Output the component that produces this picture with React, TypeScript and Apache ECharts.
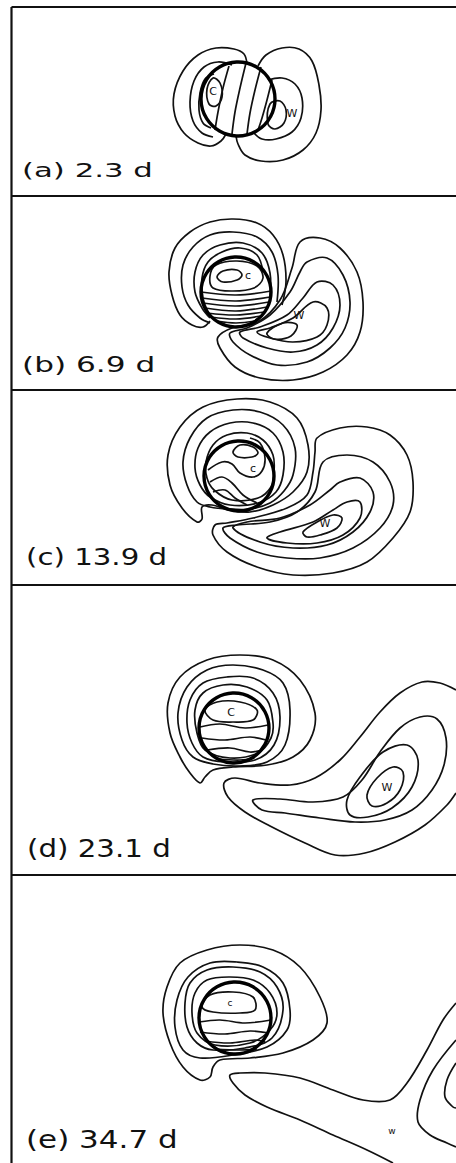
import React, { useEffect, useRef } from "react";
import * as echarts from "echarts";

type Pt = [number, number];
type Contour = { closed: boolean; pts: Pt[] };

// ---------- data (page-pixel data units, y downward) ----------
const panelLabels = ["(a) 2.3 d", "(b) 6.9 d", "(c) 13.9 d", "(d) 23.1 d", "(e) 34.7 d"];

// vortex core circles: [cx, cy, r]
const vortexCircles: [number, number, number][] = [
  [238, 99, 37],
  [236, 292, 35],
  [239, 476, 35],
  [234, 728, 35],
  [235, 1018, 36],
];

// C / W centre marks: [x, y, text, small?]
const centreMarks: [number, number, string, number][] = [
  [213, 91, "C", 0], [292, 113, "W", 0],
  [248, 275, "c", 0], [299, 315, "W", 0],
  [253, 468, "c", 0], [325, 523, "W", 0],
  [231, 712, "C", 0], [387, 787, "W", 0],
  [230, 1003, "c", 1], [392, 1131, "w", 1],
];

const panelA: Contour[] = [
  { closed: false, pts: [[247,64],[244,54],[234,49],[216,48],[198,55],[183,71],[174,94],[175,116],[184,133],[198,143],[211,146],[221,141],[226,134]] },
  { closed: false, pts: [[232,65],[218,62],[204,67],[194,81],[190,102],[193,121],[202,133],[213,137]] },
  { closed: false, pts: [[214,74],[205,79],[200,93],[199,110],[203,123],[211,128]] },
  { closed: true, pts: [[213,78],[220,83],[222,97],[216,106],[209,104],[207,89]] },
  { closed: false, pts: [[229,66],[223,88],[218,112],[215,130]] },
  { closed: false, pts: [[246,63],[240,88],[235,112],[232,134]] },
  { closed: false, pts: [[261,67],[255,90],[250,113],[247,134]] },
  { closed: false, pts: [[272,80],[267,100],[262,118],[258,130]] },
  { closed: false, pts: [[258,66],[266,55],[282,48],[299,49],[312,61],[319,85],[321,110],[316,133],[303,150],[283,160],[261,161],[245,155],[238,144],[236,136]] },
  { closed: false, pts: [[268,80],[282,78],[295,84],[302,98],[301,118],[292,132],[276,139],[262,139],[254,133]] },
  { closed: true, pts: [[270,104],[280,101],[286,110],[284,123],[275,129],[268,124]] },
];

const panelB: Contour[] = [
  { closed: false, pts: [[282,305],[286,282],[283,255],[273,235],[257,223],[233,219],[210,222],[190,232],[175,248],[169,272],[172,295],[180,315],[192,325],[203,327],[210,321]] },
  { closed: false, pts: [[277,302],[278,275],[272,252],[257,237],[233,232],[210,235],[193,247],[183,265],[182,287],[188,305],[200,318],[210,323]] },
  { closed: false, pts: [[270,298],[270,273],[262,253],[243,243],[220,245],[203,255],[195,272],[195,292],[202,308],[210,318]] },
  { closed: false, pts: [[263,272],[257,255],[240,248],[222,252],[208,262],[202,278],[203,298],[208,312]] },
  { closed: true, pts: [[217,277],[223,271],[237,270],[242,275],[237,280],[223,282]] },
  { closed: true, pts: [[210,276],[216,265],[237,261],[257,266],[263,278],[254,288],[233,291],[213,288]] },
  { closed: false, pts: [[201,292],[236,295],[271,291]] },
  { closed: false, pts: [[202,298],[236,301],[270,297]] },
  { closed: false, pts: [[203,303],[236,306],[269,302]] },
  { closed: false, pts: [[205,308],[236,311],[267,307]] },
  { closed: false, pts: [[207,313],[236,315],[264,312]] },
  { closed: false, pts: [[211,317],[236,319],[261,316]] },
  { closed: false, pts: [[216,321],[236,323],[256,321]] },
  { closed: true, pts: [[300,242],[320,238],[340,248],[357,272],[363,302],[360,332],[347,355],[323,372],[293,380],[260,378],[235,367],[220,348],[218,337],[232,328],[258,322],[280,300],[292,268]] },
  { closed: true, pts: [[307,262],[327,258],[343,275],[350,302],[345,328],[330,348],[307,362],[277,365],[250,355],[233,342],[230,333],[247,328],[270,315],[290,292],[300,272]] },
  { closed: true, pts: [[317,282],[333,285],[340,305],[333,328],[317,345],[293,352],[267,348],[243,338],[240,332],[260,327],[287,315],[303,298]] },
  { closed: true, pts: [[313,302],[327,308],[327,325],[317,337],[293,342],[270,338],[257,332],[270,328],[293,318]] },
  { closed: true, pts: [[267,333],[283,323],[297,325],[291,336],[274,339]] },
];

const panelC: Contour[] = [
  { closed: true, pts: [[307,472],[308,445],[297,418],[270,402],[237,399],[203,407],[180,427],[168,455],[170,485],[182,508],[197,522],[202,519],[202,507],[212,505],[228,510],[250,512],[273,505],[293,492]] },
  { closed: true, pts: [[293,475],[295,448],[283,425],[260,412],[233,410],[207,418],[190,438],[183,462],[187,485],[197,502],[210,507],[228,509],[250,509],[270,503],[284,491]] },
  { closed: true, pts: [[283,475],[283,452],[273,433],[253,423],[230,423],[210,432],[198,448],[195,468],[200,485],[210,497],[230,505],[258,503],[276,492]] },
  { closed: true, pts: [[274,472],[273,455],[263,440],[247,433],[227,435],[213,445],[206,462],[207,478],[214,490],[232,500],[258,498],[271,487]] },
  { closed: true, pts: [[233,452],[240,445],[253,447],[258,453],[252,457],[238,457]] },
  { closed: false, pts: [[208,470],[222,462],[232,464],[240,473],[253,477],[262,471],[265,458],[260,443],[250,438]] },
  { closed: false, pts: [[210,482],[222,477],[232,483],[243,495],[257,503]] },
  { closed: false, pts: [[213,492],[225,490],[235,498],[247,505]] },
  { closed: true, pts: [[317,438],[340,428],[367,427],[390,435],[407,455],[413,482],[410,512],[393,538],[367,562],[333,573],[293,575],[257,567],[227,552],[213,535],[215,525],[227,523],[253,518],[287,508],[307,495],[313,472],[315,452]] },
  { closed: true, pts: [[323,462],[347,455],[373,462],[390,482],[393,505],[380,528],[353,548],[320,558],[287,558],[257,552],[230,538],[223,528],[237,525],[270,522],[297,512],[315,492]] },
  { closed: true, pts: [[340,482],[360,478],[373,492],[370,512],[353,532],[327,545],[293,548],[260,542],[233,528],[247,522],[280,518],[310,505],[330,490]] },
  { closed: true, pts: [[347,502],[360,502],[360,518],[343,535],[317,543],[287,543],[267,538],[280,532],[313,522],[333,510]] },
  { closed: true, pts: [[303,532],[317,522],[333,515],[342,518],[337,528],[320,535],[307,537]] },
];

const panelD: Contour[] = [
  { closed: true, pts: [[315,713],[300,680],[273,660],[240,655],[207,660],[180,677],[168,703],[170,733],[180,757],[190,773],[200,783],[205,777],[213,770],[233,767],[267,765],[293,757],[310,740]] },
  { closed: true, pts: [[290,710],[283,683],[263,670],[233,665],[207,670],[187,687],[178,713],[182,740],[193,757],[213,764],[240,766],[267,762],[285,745]] },
  { closed: true, pts: [[280,717],[273,693],[253,678],[227,677],[203,683],[190,700],[187,723],[192,743],[203,757],[225,762],[255,760],[274,745]] },
  { closed: true, pts: [[273,723],[267,700],[247,687],[223,685],[203,693],[195,710],[197,733],[205,750],[230,758],[258,753],[271,738]] },
  { closed: true, pts: [[205,710],[217,702],[240,702],[257,710],[253,720],[233,722],[213,720]] },
  { closed: false, pts: [[200,727],[220,724],[245,728],[268,725]] },
  { closed: false, pts: [[202,738],[225,740],[250,737],[266,740]] },
  { closed: false, pts: [[207,750],[230,748],[250,752],[262,750]] },
  { closed: false, pts: [[218,759],[240,760],[254,758]] },
  { closed: false, pts: [[456,690],[440,683],[422,682],[400,693],[380,712],[360,737],[340,760],[315,778],[290,785],[260,783],[235,778],[224,783],[228,797],[245,812],[270,826],[305,843],[335,855],[365,853],[395,842],[425,825],[447,805],[456,793]] },
  { closed: true, pts: [[253,800],[280,799],[313,802],[343,797],[362,780],[380,752],[400,728],[420,717],[437,719],[446,738],[444,765],[432,790],[412,810],[385,820],[355,822],[320,818],[285,813],[262,810]] },
  { closed: true, pts: [[347,800],[360,777],[383,752],[407,745],[418,760],[412,787],[392,808],[368,817],[350,815]] },
  { closed: true, pts: [[367,795],[377,778],[393,767],[403,772],[400,790],[387,803],[372,806]] },
];

const panelE: Contour[] = [
  { closed: true, pts: [[327,1023],[320,997],[300,967],[273,950],[240,945],[207,950],[180,963],[167,987],[163,1013],[170,1043],[183,1067],[200,1080],[210,1077],[213,1067],[220,1060],[250,1058],[283,1053],[313,1040]] },
  { closed: true, pts: [[290,1010],[283,983],[263,967],[237,962],[210,963],[188,977],[177,1000],[175,1027],[183,1050],[200,1058],[233,1055],[267,1047],[287,1030]] },
  { closed: true, pts: [[283,1010],[277,987],[260,972],[233,967],[207,970],[190,983],[185,1003],[187,1027],[197,1043],[213,1050],[245,1048],[272,1038]] },
  { closed: true, pts: [[277,1013],[270,993],[253,980],[230,977],[207,980],[195,993],[192,1013],[197,1033],[215,1045],[250,1043],[270,1030]] },
  { closed: true, pts: [[202,1007],[210,995],[233,992],[253,997],[255,1010],[240,1013],[213,1012]] },
  { closed: false, pts: [[199,1022],[220,1020],[245,1023],[271,1020]] },
  { closed: false, pts: [[200,1032],[225,1034],[250,1031],[269,1033]] },
  { closed: false, pts: [[205,1041],[230,1043],[255,1040],[265,1042]] },
  { closed: false, pts: [[215,1049],[240,1050],[257,1049]] },
  { closed: false, pts: [[456,1003],[443,1020],[427,1050],[407,1083],[390,1100],[363,1100],[333,1090],[300,1078],[265,1073],[240,1073],[230,1075],[233,1083],[245,1095],[267,1107],[300,1120],[333,1135],[367,1150],[393,1163]] },
  { closed: false, pts: [[456,1040],[433,1070],[420,1100],[418,1122],[430,1135],[447,1143],[456,1147]] },
  { closed: false, pts: [[456,1063],[447,1080],[445,1097],[453,1107],[456,1108]] },
];

// ---------- layout ----------
const W = 456;
const H = 1163;
const frameLeft = 11.5;
const frameLines = [7, 196, 390, 585, 875];
const labelLayout = [
  { x: 22, base: 177, size: 19, sx: 1.62 },
  { x: 22, base: 372, size: 20.5, sx: 1.52 },
  { x: 26, base: 565, size: 22.5, sx: 1.3 },
  { x: 27, base: 857, size: 24, sx: 1.22 },
  { x: 26, base: 1148, size: 25, sx: 1.24 },
];

const allContours: Contour[] = [...panelA, ...panelB, ...panelC, ...panelD, ...panelE];

export default function App() {
  const ref = useRef<HTMLDivElement>(null);
  useEffect(() => {
    document.body.style.margin = "0";
    const chart = echarts.init(ref.current!, null, { renderer: "svg" });
    const graphics: any[] = [];
    frameLines.forEach((y) => {
      graphics.push({ type: "line", shape: { x1: frameLeft, y1: y, x2: W, y2: y }, style: { stroke: "#111", lineWidth: 2.2 }, silent: true });
    });
    graphics.push({ type: "line", shape: { x1: frameLeft, y1: frameLines[0], x2: frameLeft, y2: H }, style: { stroke: "#111", lineWidth: 2.2 }, silent: true });
    panelLabels.forEach((t, i) => {
      const L = labelLayout[i];
      graphics.push({
        type: "text",
        x: L.x,
        y: L.base - 0.35 * L.size,
        scaleX: L.sx,
        silent: true,
        style: { text: t, fill: "#111", font: `${L.size}px "DejaVu Sans"`, align: "left", verticalAlign: "middle" },
      });
    });

    chart.setOption({
      animation: false,
      backgroundColor: "#fff",
      grid: { left: 0, right: 0, top: 0, bottom: 0 },
      xAxis: { type: "value", min: 0, max: W, show: false },
      yAxis: { type: "value", min: 0, max: H, inverse: true, show: false },
      graphic: graphics,
      series: [
        {
          type: "custom",
          coordinateSystem: "cartesian2d",
          silent: true,
          data: allContours.map((c, i) => [c.pts[0][0], c.pts[0][1], i]),
          renderItem: (params: any, api: any) => {
            const c = allContours[params.dataIndex];
            const points = c.pts.map((p) => api.coord(p));
            return {
              type: c.closed ? "polygon" : "polyline",
              shape: { points, smooth: 0.35 },
              style: { stroke: "#111", fill: "none", lineWidth: 1.7 },
            };
          },
        },
        {
          type: "custom",
          coordinateSystem: "cartesian2d",
          silent: true,
          data: vortexCircles.map((c) => [c[0], c[1], c[2]]),
          renderItem: (params: any, api: any) => {
            const c = vortexCircles[params.dataIndex];
            const p = api.coord([c[0], c[1]]);
            const r = api.size([c[2], c[2]])[0];
            return {
              type: "circle",
              shape: { cx: p[0], cy: p[1], r },
              style: { stroke: "#000", fill: "none", lineWidth: 3.4 },
            };
          },
        },
        {
          type: "custom",
          coordinateSystem: "cartesian2d",
          silent: true,
          data: centreMarks.map((m) => [m[0], m[1]]),
          renderItem: (params: any, api: any) => {
            const m = centreMarks[params.dataIndex];
            const p = api.coord([m[0], m[1]]);
            return {
              type: "text",
              x: p[0],
              y: p[1],
              style: {
                text: m[2],
                fill: "#111",
                font: `${m[3] ? 9 : 11}px "DejaVu Sans"`,
                align: "center",
                verticalAlign: "middle",
              },
            };
          },
        },
      ],
    });
    return () => chart.dispose();
  }, []);
  return <div ref={ref} style={{ position: "absolute", left: 0, top: 0, width: W, height: H }} />;
}
